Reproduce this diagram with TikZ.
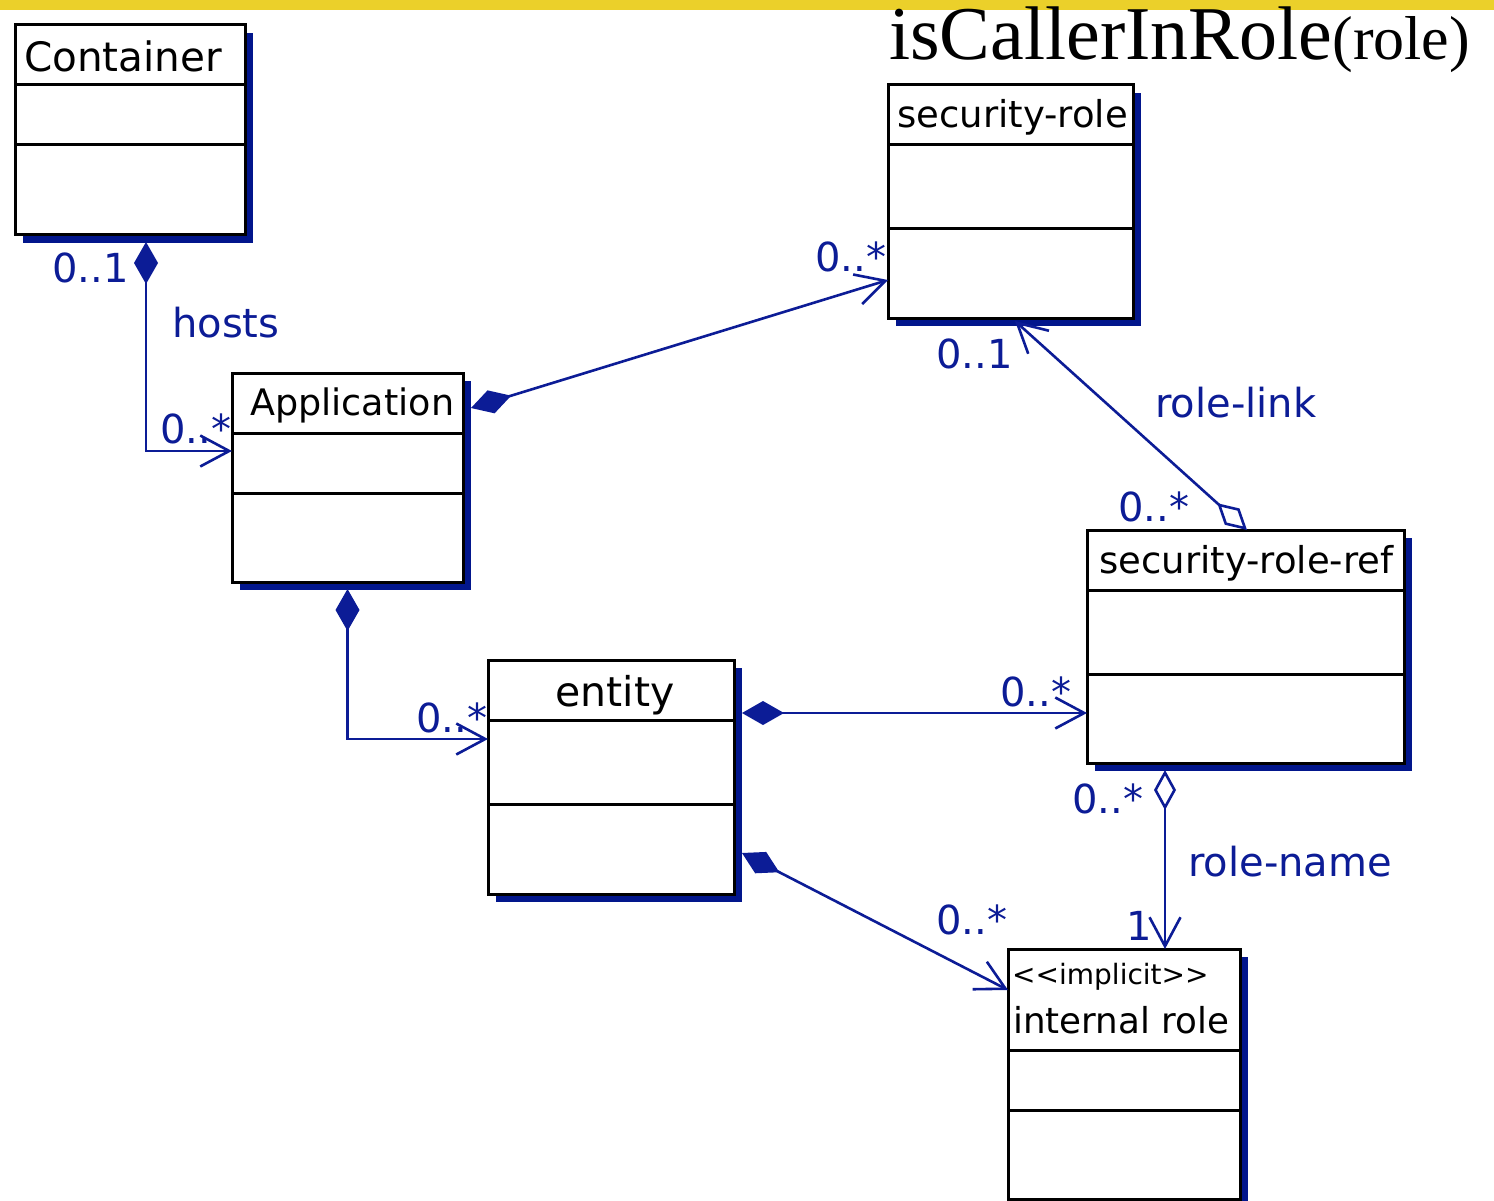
\documentclass[tikz,border=0pt]{standalone}
\usepackage{fontspec}
\setmainfont{DejaVu Sans}
\newfontfamily\titleserif{Liberation Serif}
\usetikzlibrary{arrows.meta,calc}

\definecolor{umlblue}{RGB}{12,28,150}
\definecolor{shadowblue}{RGB}{2,22,140}
\definecolor{topbar}{RGB}{235,208,42}

\tikzset{
  classbox/.style={draw=black, line width=3pt, fill=white, anchor=north west,
    inner sep=0pt, outer sep=0pt},
  boxtitle/.style={anchor=base west, inner sep=0pt, font=\fontsize{#1}{#1}\selectfont},
  boxtitle/.default=37,
  mult/.style={anchor=base west, inner sep=0pt, text=umlblue,
    font=\fontsize{40}{40}\selectfont},
  assoc/.style={draw=umlblue, line width=2.6pt},
  comp/.style={assoc, {Diamond[length=42pt,width=24pt,fill=umlblue]}-{Straight Barb[length=29pt,width=31pt]}},
  aggr/.style={assoc, {Diamond[open,length=40pt,width=22pt,fill=white]}-{Straight Barb[length=29pt,width=31pt]}},
}

% class box with drop shadow: name, x1, y1, x2, y2, first divider, second divider
\newcommand\umlclass[7]{%
  \fill[shadowblue] (#2+8,#3+8) rectangle (#4+8,#5+8);
  \node[classbox, minimum width=#4-#2, minimum height=#5-#3] (#1) at (#2,#3) {};
  \draw[line width=3pt] (#2,#6) -- (#4,#6);
  \draw[line width=3pt] (#2,#7) -- (#4,#7);
}

\begin{document}
\begin{tikzpicture}[x=1pt, y=-1pt]
\useasboundingbox (0,0) rectangle (1494,1201);
\fill[white] (0,0) rectangle (1494,1201);
\fill[topbar] (0,0) rectangle (1494,10);

\node[anchor=base west, inner sep=0pt] (heading) at (889,60)
  {\titleserif{\fontsize{76}{76}\selectfont isCallerInRole}{\fontsize{62}{62}\selectfont(role)}};

% classes
\umlclass{container}{15}{25}{245}{235}{85}{145}
\umlclass{application}{232}{373}{463}{582}{433}{493}
\umlclass{secrole}{888}{85}{1133}{318}{145}{229}
\umlclass{secref}{1087}{530}{1404}{763}{590}{674}
\umlclass{entity}{488}{660}{734}{894}{720}{804}
\umlclass{internal}{1008}{949}{1240}{1199}{1050}{1110}

\node[boxtitle=40.5] (containerT) at (24,72) {Container};
\node[boxtitle=36.5] (applicationT) at (250,415) {Application};
\node[boxtitle=37] (secroleT) at (897,128) {security-role};
\node[boxtitle=37] (secrefT) at (1099,573) {security-role-ref};
\node[boxtitle=41, anchor=base] (entityT) at (615,706) {entity};
\node[anchor=base west, inner sep=0pt, font=\fontsize{28}{28}\selectfont] (stereo) at (1012,984) {<{}<implicit>{}>};
\node[boxtitle=35.7] (internalT) at (1013,1033) {internal role};

% associations
\draw[comp] ([xshift=16pt,yshift=-7pt]container.south) |- ([yshift=26.5pt]application.west);
\draw[comp] ([xshift=8pt,yshift=69.5pt]application.east) -- ([yshift=-78.5pt]secrole.west);
\draw[aggr] ([xshift=1.5pt]secref.north) -- ([xshift=4.5pt,yshift=-3pt]secrole.south);
\draw[comp] ([xshift=8pt,yshift=64pt]entity.east) -- ([yshift=-66.5pt]secref.west);
\draw[comp] ([yshift=-7pt]application.south) |- ([yshift=38pt]entity.west);
\draw[comp] ([xshift=8pt,yshift=-76pt]entity.east) -- ([yshift=84pt]internal.west);
\draw[aggr] ([xshift=-80.5pt,yshift=-7pt]secref.south) -- ([xshift=41pt]internal.north);

% multiplicities and role names
\node[mult] (m1) at (52,283) {0..1};
\node[mult] (hosts) at (172,337) {hosts};
\node[mult] (m2) at (160,443) {0..*};
\node[mult] (m3) at (815,271) {0..*};
\node[mult] (m4) at (936,368) {0..1};
\node[mult] (rolelink) at (1155,417) {role-link};
\node[mult] (m5) at (1118,521) {0..*};
\node[mult] (m6) at (1000,706) {0..*};
\node[mult] (m7) at (416,732) {0..*};
\node[mult] (m8) at (936,934) {0..*};
\node[mult] (m9) at (1072,813) {0..*};
\node[mult] (rolename) at (1188,876) {role-name};
\node[mult] (m10) at (1126,940) {1};
\end{tikzpicture}
\end{document}
